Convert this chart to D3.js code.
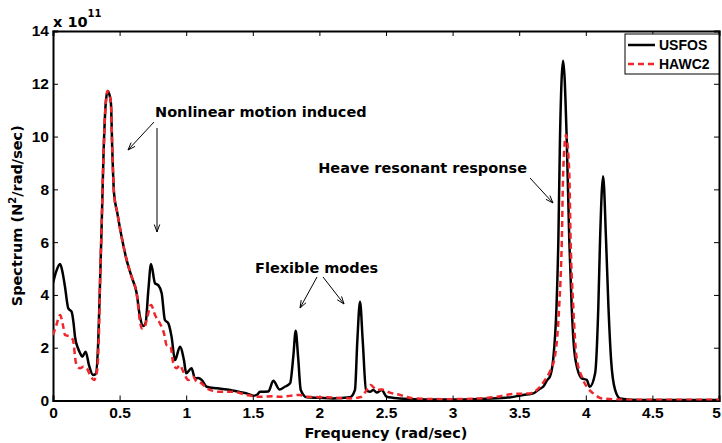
<!DOCTYPE html>
<html>
<head>
<meta charset="utf-8">
<script src="https://cdn.jsdelivr.net/npm/d3@7"></script>
<style>
  body { margin: 0; background: #fff; }
  text { font-weight: bold; fill: #000; }
  .wide { font-family: "DejaVu Sans", Verdana, sans-serif; }
  .narrow { font-family: "Liberation Sans", Arial, sans-serif; }
</style>
</head>
<body>
<svg id="chart" width="722" height="443"></svg>
<script>
// Frequency (rad/sec) and spectrum values (x 10^11)
const usfosFreq = [0, 0.025, 0.053, 0.07, 0.09, 0.115, 0.14, 0.155, 0.165, 0.19, 0.203, 0.22, 0.245, 0.27, 0.30, 0.32, 0.34, 0.353, 0.365, 0.378, 0.395, 0.41, 0.423, 0.435, 0.445, 0.458, 0.483, 0.515, 0.553, 0.59, 0.628, 0.653, 0.678, 0.695, 0.716, 0.736, 0.766, 0.79, 0.816, 0.84, 0.866, 0.89, 0.916, 0.953, 0.983, 1.0, 1.04, 1.066, 1.09, 1.116, 1.154, 1.23, 1.33, 1.40, 1.454, 1.504, 1.53, 1.554, 1.617, 1.654, 1.70, 1.74, 1.78, 1.804, 1.822, 1.84, 1.86, 1.905, 2.0, 2.104, 2.23, 2.267, 2.285, 2.305, 2.325, 2.35, 2.38, 2.405, 2.43, 2.468, 2.505, 2.6, 2.8, 3.0, 3.2, 3.4, 3.53, 3.606, 3.656, 3.68, 3.71, 3.73, 3.756, 3.78, 3.794, 3.806, 3.83, 3.857, 3.876, 3.894, 3.919, 3.97, 4.007, 4.03, 4.07, 4.094, 4.107, 4.13, 4.152, 4.17, 4.19, 4.22, 4.257, 4.4, 5.0];
const usfosValues = [4.45, 4.9, 5.17, 4.9, 4.31, 3.49, 3.36, 2.9, 2.42, 1.95, 1.8, 1.66, 1.85, 1.34, 0.97, 1.0, 2.29, 4.45, 6.58, 9.1, 11.2, 11.73, 11.6, 11.26, 9.5, 7.86, 7.1, 6.2, 5.32, 4.69, 4.06, 3.17, 2.82, 2.93, 4.19, 5.17, 4.44, 4.37, 4.06, 3.05, 2.92, 2.42, 1.53, 2.04, 1.53, 1.03, 1.22, 0.84, 0.85, 0.78, 0.52, 0.46, 0.40, 0.32, 0.27, 0.18, 0.21, 0.33, 0.34, 0.75, 0.42, 0.52, 0.65, 1.66, 2.64, 1.66, 0.40, 0.12, 0.1, 0.08, 0.12, 0.40, 2.29, 3.74, 2.29, 0.40, 0.33, 0.40, 0.30, 0.40, 0.14, 0.08, 0.04, 0.04, 0.06, 0.1, 0.21, 0.27, 0.45, 0.52, 0.78, 0.9, 1.6, 3.55, 6.08, 9.87, 12.87, 9.87, 6.08, 3.55, 1.66, 0.84, 0.78, 0.52, 1.03, 3.55, 6.08, 8.5, 6.08, 3.55, 1.53, 0.40, 0.08, 0.02, 0.02];

const hawc2Freq = [0, 0.025, 0.053, 0.075, 0.09, 0.128, 0.15, 0.173, 0.203, 0.228, 0.253, 0.278, 0.308, 0.328, 0.345, 0.353, 0.365, 0.378, 0.395, 0.41, 0.423, 0.435, 0.445, 0.458, 0.483, 0.515, 0.553, 0.59, 0.628, 0.653, 0.666, 0.685, 0.703, 0.736, 0.766, 0.803, 0.833, 0.853, 0.883, 0.903, 0.928, 0.953, 0.978, 1.016, 1.053, 1.078, 1.116, 1.154, 1.254, 1.354, 1.454, 1.554, 1.654, 1.70, 1.854, 1.905, 2.055, 2.23, 2.317, 2.355, 2.385, 2.43, 2.468, 2.53, 2.605, 2.705, 2.96, 3.206, 3.33, 3.456, 3.58, 3.656, 3.694, 3.73, 3.77, 3.80, 3.82, 3.83, 3.851, 3.876, 3.886, 3.906, 3.93, 3.97, 4.007, 4.056, 4.12, 4.3, 5.0];
const hawc2Values = [2.48, 2.85, 3.24, 2.85, 2.48, 2.42, 2.29, 1.41, 1.22, 1.28, 1.22, 0.97, 0.78, 1.03, 2.5, 4.45, 6.58, 9.1, 11.2, 11.73, 11.6, 11.26, 9.5, 7.86, 7.1, 6.2, 5.32, 4.69, 4.06, 3.0, 2.73, 2.75, 3.05, 3.62, 3.24, 2.92, 2.55, 2.1, 2.04, 1.41, 1.22, 1.34, 1.09, 0.78, 0.9, 0.71, 0.65, 0.46, 0.33, 0.33, 0.21, 0.14, 0.16, 0.14, 0.21, 0.14, 0.12, 0.08, 0.14, 0.40, 0.59, 0.40, 0.42, 0.30, 0.21, 0.08, 0.05, 0.08, 0.14, 0.25, 0.27, 0.52, 0.78, 1.09, 1.72, 3.55, 6.08, 8.6, 10.06, 8.6, 6.08, 3.55, 1.66, 0.9, 0.52, 0.27, 0.08, 0.03, 0.03];

const xTicks = [0, 0.5, 1, 1.5, 2, 2.5, 3, 3.5, 4, 4.5, 5];
const yTicks = [0, 2, 4, 6, 8, 10, 12, 14];
const seriesNames = ["USFOS", "HAWC2"];
const seriesColors = ["#000", "#f0262a"];

const svg = d3.select("#chart");
const margin = { top: 31, right: 3, bottom: 42.5, left: 53 };
const width = 722 - margin.left - margin.right;
const height = 443 - margin.top - margin.bottom;

const x = d3.scaleLinear().domain([0, 5]).range([0, width]);
const y = d3.scaleLinear().domain([0, 14]).range([height, 0]);

const g = svg.append("g").attr("transform", `translate(${margin.left},${margin.top})`);

g.append("clipPath").attr("id", "clip")
  .append("rect").attr("width", width).attr("height", height);

// Axes with inward ticks (bottom/left labelled, top/right plain)
const xAxis = g.append("g").attr("transform", `translate(0,${height})`)
  .call(d3.axisBottom(x).tickValues(xTicks).tickSize(-5).tickPadding(4).tickFormat(d3.format("")));
const xTop = g.append("g")
  .call(d3.axisTop(x).tickValues(xTicks).tickSize(-5).tickFormat(""));
const yAxis = g.append("g")
  .call(d3.axisLeft(y).tickValues(yTicks).tickSize(-5).tickPadding(4));
const yRight = g.append("g").attr("transform", `translate(${width},0)`)
  .call(d3.axisRight(y).tickValues(yTicks).tickSize(-5).tickFormat(""));

[xAxis, xTop, yAxis, yRight].forEach(a => {
  a.select(".domain").attr("stroke", "#000").attr("stroke-width", 2);
  a.selectAll(".tick line").attr("stroke", "#000").attr("stroke-width", 1);
  a.selectAll(".tick text").attr("class", "narrow").attr("font-family", null)
    .style("font-size", "15.5px").style("font-weight", "bold");
});
xAxis.selectAll(".tick text").attr("dy", "0.85em");
// keep the last label inside the picture
xAxis.selectAll(".tick text").filter(d => d === 5).attr("dx", -3);

const line = d3.line()
  .x(d => x(d[0]))
  .y(d => y(d[1]))
  .curve(d3.curveMonotoneX);

const plot = g.append("g").attr("clip-path", "url(#clip)");

plot.append("path")
  .datum(usfosFreq.map((f, i) => [f, usfosValues[i]]))
  .attr("fill", "none")
  .attr("stroke", seriesColors[0])
  .attr("stroke-width", 2.5)
  .attr("d", line);

plot.append("path")
  .datum(hawc2Freq.map((f, i) => [f, hawc2Values[i]]))
  .attr("fill", "none")
  .attr("stroke", seriesColors[1])
  .attr("stroke-width", 2.5)
  .attr("stroke-dasharray", "6,4")
  .attr("d", line);

// Exponent label
const expo = svg.append("text").attr("class", "wide").attr("x", 53).attr("y", 27).style("font-size", "14.5px");
expo.append("tspan").text("x 10");
expo.append("tspan").attr("dy", -10).style("font-size", "10px").text("11");

// Axis titles
svg.append("text").attr("class", "wide")
  .attr("x", margin.left + width / 2).attr("y", 438)
  .attr("text-anchor", "middle").style("font-size", "14.5px")
  .text("Frequency (rad/sec)");

const yl = svg.append("text").attr("class", "wide")
  .attr("transform", `translate(22,${margin.top + height / 2}) rotate(-90)`)
  .attr("text-anchor", "middle").style("font-size", "14.5px");
yl.append("tspan").text("Spectrum (N");
yl.append("tspan").attr("dy", -6).style("font-size", "10px").text("2");
yl.append("tspan").attr("dy", 6).text("/rad/sec)");

// Legend
const lg = svg.append("g").attr("transform", "translate(625,34)");
lg.append("rect").attr("width", 94).attr("height", 40)
  .attr("fill", "#fff").attr("stroke", "#000").attr("stroke-width", 1);
seriesNames.forEach((name, i) => {
  const yy = 11 + i * 19;
  lg.append("line").attr("x1", 3).attr("x2", 30).attr("y1", yy).attr("y2", yy)
    .attr("stroke", seriesColors[i]).attr("stroke-width", 2.5)
    .attr("stroke-dasharray", i === 0 ? null : "6,4");
  lg.append("text").attr("class", "narrow").attr("x", 34).attr("y", yy + 5)
    .style("font-size", "14px").text(name);
});

// Annotations
const ann = svg.append("g");
function arrow(x1, y1, x2, y2) {
  ann.append("line").attr("x1", x1).attr("y1", y1).attr("x2", x2).attr("y2", y2)
    .attr("stroke", "#000").attr("stroke-width", 1);
  const a = Math.atan2(y2 - y1, x2 - x1), L = 8, w = 0.35;
  ann.append("path")
    .attr("d", `M${x2 - L * Math.cos(a - w)},${y2 - L * Math.sin(a - w)} L${x2},${y2} L${x2 - L * Math.cos(a + w)},${y2 - L * Math.sin(a + w)}`)
    .attr("fill", "none").attr("stroke", "#000").attr("stroke-width", 1);
}
ann.append("text").attr("class", "wide").attr("x", 155).attr("y", 117).style("font-size", "14.5px").text("Nonlinear motion induced");
arrow(154, 122, 128, 150);
arrow(157, 128, 157, 232);

ann.append("text").attr("class", "wide").attr("x", 255).attr("y", 273).style("font-size", "14.5px").text("Flexible modes");
arrow(317, 277, 300, 308);
arrow(323, 277, 344, 304);

ann.append("text").attr("class", "wide").attr("x", 527).attr("y", 173).attr("text-anchor", "end").style("font-size", "14.5px").text("Heave resonant response");
arrow(530, 178, 553, 203);
</script>
</body>
</html>
